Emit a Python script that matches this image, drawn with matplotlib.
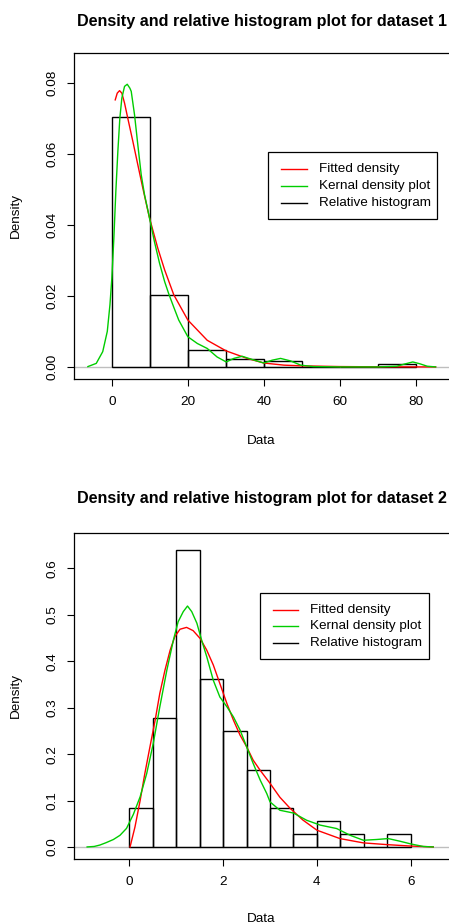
"""
Density and relative histogram plots for two datasets (R base-graphics look).
"""
import matplotlib.pyplot as plt
from matplotlib.patches import Rectangle
plt.switch_backend("agg")

plt.rcParams['font.family'] = ['Liberation Sans', 'DejaVu Sans']

# ---- dataset 1 ----
HIST1_EDGES = [0, 10, 20, 30, 40, 50, 60, 70, 80]
HIST1_DENS = [0.0703, 0.0203, 0.00469, 0.00234, 0.00156, 0.0, 0.0, 0.00078]

FIT1_X = [0.89, 1.42, 2.03, 2.63, 3.34, 4.2, 5.53, 6.84, 8.16, 9.92, 12.1,
          13.9, 16.3, 20.0, 25.1, 30.1, 35.6, 40.0, 45.3, 50.0, 60.0, 70.0,
          85.2]
FIT1_Y = [0.0752, 0.0771, 0.0778, 0.0771, 0.0743, 0.070, 0.0635, 0.0569,
          0.0503, 0.0419, 0.0334, 0.0273, 0.0203, 0.0132, 0.0075, 0.0045,
          0.0024, 0.0011, 0.0005, 0.0003, 0.0001, 0.00003, 0.0]

KDE1_X = [-6.3, -4.1, -2.4, -1.2, -0.5, 0.0, 0.53, 1.05, 1.58, 2.1, 2.63,
          3.34, 4.05, 4.74, 5.1, 5.97, 6.84, 7.73, 8.6, 9.92, 11.2, 12.55,
          13.9, 15.0, 16.3, 17.6, 20.0, 22.5, 25.1, 27.7, 30.1, 32.1, 34.3,
          36.9, 40.0, 42.2, 44.4, 47.0, 49.7, 53.0, 60.0, 70.0, 75.0, 77.0,
          79.2, 81.0, 83.0, 85.2]
KDE1_Y = [0.0001, 0.001, 0.0043, 0.010, 0.0175, 0.025, 0.0363, 0.0494,
          0.0607, 0.070, 0.0757, 0.079, 0.0796, 0.0785, 0.0776, 0.071,
          0.0625, 0.0541, 0.0485, 0.0419, 0.0353, 0.0292, 0.024, 0.0205,
          0.0168, 0.0132, 0.0085, 0.0066, 0.0052, 0.0028, 0.0014, 0.0024,
          0.003, 0.0021, 0.0011, 0.0019, 0.0024, 0.0017, 0.0005, 0.0001,
          0.0, 0.0, 0.0002, 0.0008, 0.0014, 0.0009, 0.0002, 0.0]

XTICKS1 = [0, 20, 40, 60, 80]
YTICKS1 = [0.00, 0.02, 0.04, 0.06, 0.08]
YLABELS1 = ["0.00", "0.02", "0.04", "0.06", "0.08"]

# ---- dataset 2 ----
HIST2_EDGES = [0, 0.5, 1, 1.5, 2, 2.5, 3, 3.5, 4, 4.5, 5, 5.5, 6]
HIST2_DENS = [0.0833, 0.2778, 0.6389, 0.3611, 0.25, 0.1667, 0.0833,
              0.0278, 0.0556, 0.0278, 0.0, 0.0278]

FIT2_X = [0.015, 0.12, 0.23, 0.33, 0.44, 0.55, 0.65, 0.76, 0.87, 0.97,
          1.08, 1.22, 1.36, 1.51, 1.65, 1.79, 1.93, 2.08, 2.22, 2.36, 2.5,
          2.64, 2.79, 3.0, 3.21, 3.43, 3.7, 4.0, 4.49, 4.99, 5.49, 5.98,
          6.48]
FIT2_Y = [0.0, 0.043, 0.10, 0.158, 0.216, 0.273, 0.331, 0.381, 0.424,
          0.453, 0.469, 0.473, 0.466, 0.449, 0.424, 0.392, 0.352, 0.309,
          0.273, 0.241, 0.216, 0.187, 0.165, 0.137, 0.107, 0.083, 0.058,
          0.036, 0.018, 0.0087, 0.005, 0.002, 0.0]

KDE2_X = [-0.9, -0.75, -0.63, -0.5, -0.34, -0.2, -0.06, 0.085, 0.23, 0.37,
          0.51, 0.65, 0.8, 0.94, 1.04, 1.15, 1.24, 1.33, 1.44, 1.54, 1.65,
          1.79, 1.93, 2.08, 2.22, 2.36, 2.5, 2.64, 2.79, 2.93, 3.0, 3.21,
          3.5, 3.78, 4.07, 4.42, 4.71, 4.99, 5.27, 5.52, 5.77, 6.02, 6.27,
          6.48]
KDE2_Y = [0.0, 0.001, 0.004, 0.009, 0.016, 0.025, 0.04, 0.07, 0.108, 0.158,
          0.223, 0.302, 0.381, 0.446, 0.485, 0.507, 0.519, 0.507, 0.482,
          0.446, 0.41, 0.359, 0.323, 0.302, 0.28, 0.252, 0.216, 0.18, 0.144,
          0.115, 0.097, 0.079, 0.073, 0.0575, 0.047, 0.0396, 0.025, 0.0144,
          0.016, 0.018, 0.0123, 0.006, 0.001, 0.0]

XTICKS2 = [0, 2, 4, 6]
YTICKS2 = [0.0, 0.1, 0.2, 0.3, 0.4, 0.5, 0.6]
YLABELS2 = ["0.0", "0.1", "0.2", "0.3", "0.4", "0.5", "0.6"]

LEGEND_LABELS = ["Fitted density", "Kernal density plot", "Relative histogram"]
TITLES = ["Density and relative histogram plot for dataset 1",
          "Density and relative histogram plot for dataset 2"]

RED = "#FF0000"
GREEN = "#00CD00"
FS = 9.7
W, H = 449, 923
AX_W = 377  # px


def r_legend(ax, left, top, ax_h):
    """legend box like R's legend(), sizes in pixels from the box corner"""
    def fx(px):
        return left + px / AX_W

    def fy(py):
        return top - py / ax_h
    ax.add_patch(Rectangle((fx(0), fy(66.7)), 169 / AX_W, 66.7 / ax_h,
                           transform=ax.transAxes, fill=False,
                           edgecolor="black", lw=0.9, zorder=5))
    for i, (lab, col) in enumerate(zip(LEGEND_LABELS, [RED, GREEN, "black"])):
        yy = fy(17 + 16.7 * i)
        ax.plot([fx(12.5), fx(38.5)], [yy, yy], color=col, lw=1.0,
                transform=ax.transAxes, zorder=5)
        ax.text(fx(50.5), yy, lab, transform=ax.transAxes, fontsize=FS,
                ha="left", va="center", zorder=5)


def panel(ax, edges, dens, fx, fy, kx, ky, xlim, ylim, xticks, yticks,
          ylabels):
    ax.axhline(0, color="#BEBEBE", lw=1.0, zorder=0)
    widths = [b - a for a, b in zip(edges[:-1], edges[1:])]
    ax.bar(edges[:-1], dens, width=widths, align="edge", fill=False,
           edgecolor="black", lw=1.0, zorder=2)
    ax.plot(fx, fy, color=RED, lw=1.0, zorder=3)
    ax.plot(kx, ky, color=GREEN, lw=1.0, zorder=3)
    ax.set_xlim(*xlim)
    ax.set_ylim(*ylim)
    ax.set_xticks(xticks)
    ax.set_xticklabels([str(t) for t in xticks])
    ax.set_yticks(yticks)
    ax.set_yticklabels(ylabels, rotation=90, va="center")
    ax.tick_params(direction="out", length=5.0, width=0.8, labelsize=FS)
    ax.tick_params(axis="x", pad=7.5)
    ax.tick_params(axis="y", pad=6.5)
    for s in ax.spines.values():
        s.set_linewidth(0.9)


def main():
    fig = plt.figure(figsize=(W / 100, H / 100), dpi=100)

    ax1 = fig.add_axes([74 / W, 1 - 379 / H, AX_W / W, 326 / H])
    panel(ax1, HIST1_EDGES, HIST1_DENS, FIT1_X, FIT1_Y, KDE1_X, KDE1_Y,
          (-9.96, -9.96 + AX_W / 3.8), (-0.0034, 0.0884),
          XTICKS1, YTICKS1, YLABELS1)
    r_legend(ax1, (268.3 - 74) / AX_W, (379 - 152.3) / 326, 326)

    ax2 = fig.add_axes([74 / W, 1 - 859 / H, AX_W / W, 326.3 / H])
    panel(ax2, HIST2_EDGES, HIST2_DENS, FIT2_X, FIT2_Y, KDE2_X, KDE2_Y,
          (-1.18, -1.18 + AX_W / 46.9), (-0.026, 0.677),
          XTICKS2, YTICKS2, YLABELS2)
    r_legend(ax2, (260 - 74) / AX_W, (859 - 592.7) / 326.3, 326.3)

    # titles and axis labels placed like R's mtext
    for title, base, dlab, mid in [(TITLES[0], 25.7, 444, 216),
                                   (TITLES[1], 503.3, 921.5, 696)]:
        fig.text(261.7 / W, 1 - base / H, title, ha="center", va="baseline",
                 fontsize=FS * 1.2, fontweight="bold")
        fig.text(261.5 / W, 1 - dlab / H, "Data", ha="center",
                 va="baseline", fontsize=FS)
        fig.text(16 / W, 1 - mid / H, "Density", ha="center", va="center",
                 rotation=90, fontsize=FS)

    fig.savefig("out.png", dpi=100)
    plt.close(fig)


if __name__ == '__main__':
    main()
